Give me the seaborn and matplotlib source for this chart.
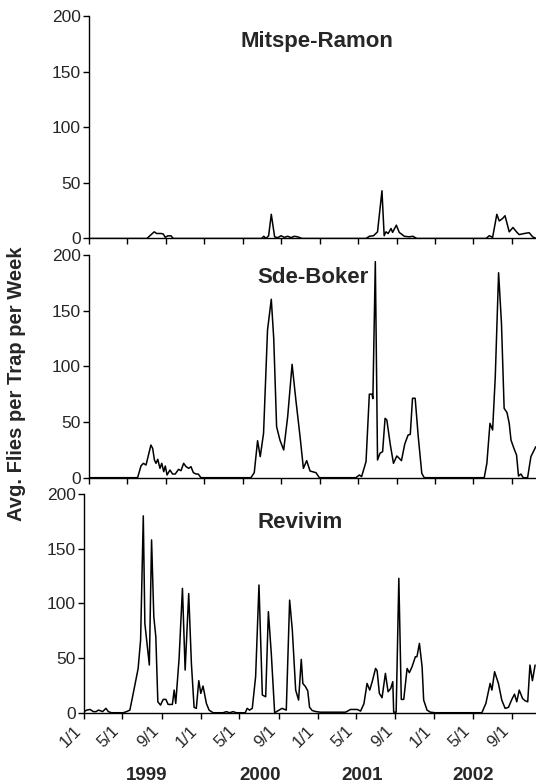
import numpy as np
import pandas as pd
import seaborn as sns
import matplotlib.pyplot as plt

# weeks since 1 Jan 1999
mr_week = [0, 26.2, 29.5, 30.6, 32.6, 33.6, 34.5, 35.6, 37.1, 38.1,
           78.0, 79.0, 80.0, 81.2, 82.4, 83.9, 85.3, 86.8, 88.3, 89.8, 91.3, 92.8, 94.3, 96.3,
           125.2, 126.7, 128.6, 130.4, 132.4, 133.4, 134.2, 135.2, 136.5, 137.2, 138.9, 140.2,
           142.5, 144.7, 146.3, 148.2,
           179.4, 180.9, 182.4, 184.3, 185.4, 186.9, 188.0, 189.9, 191.6, 193.4, 194.4, 196.7,
           198.9, 200.5, 202.0]
mr_val = [0, 0, 6, 4.5, 4.5, 4, 1, 2.4, 2.4, 0,
          0, 2, 0, 2.5, 21.8, 1.5, 0.7, 2.5, 1, 2, 0.8, 2, 1.5, 0,
          0, 2, 2.5, 6, 43, 2.5, 6, 4.5, 9, 5.5, 12, 5.5,
          2, 1.5, 2, 0,
          0, 2.5, 1, 21.8, 15.8, 18, 20.5, 6, 9.9, 5.5, 3.5, 4.5,
          5.2, 1.5, 0]

sb_week = [0, 22.0, 23.5, 24.6, 25.8, 28.0, 28.8, 29.6, 30.3, 31.1, 32.1, 32.9, 33.8, 34.5,
           35.3, 36.6, 37.8, 39.0, 40.5, 41.6, 42.8, 43.9, 45.1, 46.1, 47.2, 48.4, 49.4, 50.6,
           73.2, 74.7, 76.2, 77.4, 78.9, 80.7, 82.4, 83.5, 84.8, 86.3, 88.0, 89.8, 91.8, 93.5,
           95.4, 96.9, 98.4, 99.9, 102.6, 104.1,
           120.6, 122.2, 123.2, 125.2, 126.7, 127.9, 128.3, 129.4, 130.4, 131.5, 132.7, 133.8,
           134.6, 136.2, 137.6, 139.1, 140.2, 141.2, 142.7, 144.2, 145.2, 146.2, 147.4, 148.8,
           150.4, 151.5,
           178.6, 179.8, 181.2, 182.4, 183.6, 185.1, 186.4, 187.6, 188.9, 189.9, 190.7, 192.2,
           193.2, 194.1, 195.2, 196.2, 198.2, 199.7, 201.9]
sb_val = [0, 0, 10.5, 12.9, 11.4, 29.3, 26.3, 15.9, 12.9, 16.5, 8.4, 12.9, 5.4, 10.5,
          2.4, 6.9, 3.3, 3.3, 7.5, 6.3, 12.9, 9.9, 8.4, 9.9, 4.5, 3.3, 3.3, 0,
          0, 4.5, 33.2, 18.9, 39.8, 132.6, 160.2, 125, 45.8, 33.8, 24.9, 54.8, 101.8, 69.8,
          36.8, 8.4, 15.3, 6, 4.5, 0,
          0, 2.4, 1, 14.4, 75, 75, 71, 194, 15.9, 21.9, 23.4, 53.3,
          51.8, 29.3, 12.9, 19.5, 17.4, 15.3, 30.2, 38.3, 38.9, 71.3, 71.3, 36.8,
          3.9, 0,
          0, 12.9, 48.8, 42.8, 90.7, 184, 138.6, 62.3, 58.4, 48.8, 33.8, 25.4,
          20.4, 1.5, 3.3, 0, 0, 18.9, 27.8]

rv_week = [0, 1.2, 2.7, 4.2, 5.4, 6.4, 7.4, 8.3, 9.8, 10.9, 12.3, 17.5, 19.0, 20.5, 22.3,
           24.2, 25.3, 26.5, 27.2, 29.2, 30.2, 31.2, 32.1, 33.0, 34.2, 35.4, 36.6, 37.6, 39.5,
           40.3, 41.0, 42.5, 44.0, 45.2, 46.8, 48.0, 49.2, 50.2, 51.3, 52.2, 53.2, 54.7, 55.9,
           57.7, 62.2, 63.6, 65.1, 66.6, 68.1, 72.1, 72.9, 74.0, 75.2, 76.7, 78.2, 79.7, 81.2,
           82.4, 83.7, 85.2, 86.7, 88.5, 90.4, 91.9, 93.1, 94.6, 95.9, 97.1, 97.8, 99.0, 100.0,
           100.8, 102.0, 103.8, 105.7, 110.9, 116.9, 119.1, 122.1, 123.6, 125.1, 126.5, 127.7,
           128.8, 130.3, 131.0, 132.0, 133.2, 134.7, 135.9, 137.1, 138.0, 138.4, 139.5, 140.7,
           141.8, 142.9, 144.4, 145.4, 146.6, 148.1, 148.8, 149.9, 151.1, 151.8, 153.3, 154.8,
           157.0, 177.8, 179.6, 181.5, 182.3, 183.5, 185.2, 186.7, 188.2, 189.7, 191.2, 192.4,
           193.4, 194.5, 196.0, 197.1, 198.3, 199.3, 200.4, 201.6]
rv_val = [1, 2.4, 3, 1, 1, 2.4, 1.8, 1, 4, 1, 0, 0, 1, 2.4, 20.7,
          40.5, 66.5, 180, 81.7, 43.6, 158, 87.8, 69.5, 10, 7, 12.2, 12.2, 7.6, 7.6,
          20.7, 8.5, 49.7, 113.7, 39, 109, 45, 4.9, 4, 29.3, 17.7, 24.4, 8.5, 2.4,
          0, 0, 1, 0, 1, 0, 0, 4, 2.4, 4, 33, 116.8, 16.2, 14.6,
          92.4, 54.3, 0, 1.8, 4, 2.4, 103, 75.6, 20.7, 11.6, 48.8, 26.8, 23.8, 20,
          5, 2, 1, 0.5, 0.5, 0.5, 3, 3, 1.5, 8.2, 26.8, 20.7,
          28.4, 40.5, 38.4, 17.7, 13.7, 36, 19.2, 22.3, 28.4, 0.5, 0.5, 122.9,
          12.2, 12.2, 40.5, 36.6, 42, 51.2, 51.2, 63.4, 42, 11.6, 2.4, 0.5,
          0, 0, 8.5, 26.8, 20.7, 37.5, 26.8, 11.6, 4, 4.9, 12.2, 17,
          10, 20.7, 13, 11, 10, 43.6, 29.3, 43.6]

sites = ['Mitspe-Ramon', 'Sde-Boker', 'Revivim']
tick_dates = ['1999-01-01', '1999-05-01', '1999-09-01', '2000-01-01', '2000-05-01', '2000-09-01',
              '2001-01-01', '2001-05-01', '2001-09-01', '2002-01-01', '2002-05-01', '2002-09-01']
tick_labels = ['1/1', '5/1', '9/1'] * 4
years = ['1999', '2000', '2001', '2002']

start = pd.Timestamp('1999-01-01')
def to_dates(weeks):
    return start + pd.to_timedelta(np.array(weeks) * 7, unit='D')

sns.set_theme(style="ticks")
plt.rcParams['font.family'] = ['Liberation Sans', 'DejaVu Sans']

fig = plt.figure(figsize=(5.36, 7.84), dpi=100)
positions = [[0.1659, 0.6958, 0.8341, 0.2832],
             [0.1659, 0.3907, 0.8341, 0.2841],
             [0.1567, 0.0909, 0.8433, 0.2790]]
title_xy = [(317, 42), (313, 277), (300, 523)]
series = [(mr_week, mr_val), (sb_week, sb_val), (rv_week, rv_val)]

for i in range(3):
    ax = fig.add_axes(positions[i])
    w, v = series[i]
    sns.lineplot(x=to_dates(w), y=v, ax=ax, color='black', linewidth=1.1, sort=False)
    ax.set_ylim(0, 200)
    ax.set_yticks([0, 50, 100, 150, 200])
    ax.set_xlim(start, pd.Timestamp('2002-11-15'))
    ax.set_xticks(pd.to_datetime(tick_dates))
    if i == 2:
        ax.set_xticklabels(tick_labels, rotation=45, ha='right', fontsize=12)
    else:
        ax.set_xticklabels([])
    ax.tick_params(axis='y', labelsize=12.5, length=4, width=1, color='black', pad=2)
    ax.tick_params(axis='x', length=4, width=1, color='black')
    for s in ['left', 'bottom']:
        ax.spines[s].set_color('black')
        ax.spines[s].set_linewidth(1)
    ax.spines['top'].set_visible(False)
    ax.spines['right'].set_visible(False)
    ax.set_xlabel('')
    ax.set_ylabel('')
    tx, ty = title_xy[i]
    fig.text(tx / 536, 1 - ty / 784, sites[i], ha='center', va='center',
             fontsize=16, fontweight='bold')

year_x = [147, 260, 362, 473]
for yr, x in zip(years, year_x):
    fig.text(x / 536, 1 - 775 / 784, yr, ha='center', va='center', fontsize=13.5, fontweight='bold')

fig.text(0.030, 0.511, 'Avg. Flies per Trap per Week', rotation=90, ha='center', va='center',
         fontsize=14.5, fontweight='bold')

plt.savefig('out.png', dpi=100)
